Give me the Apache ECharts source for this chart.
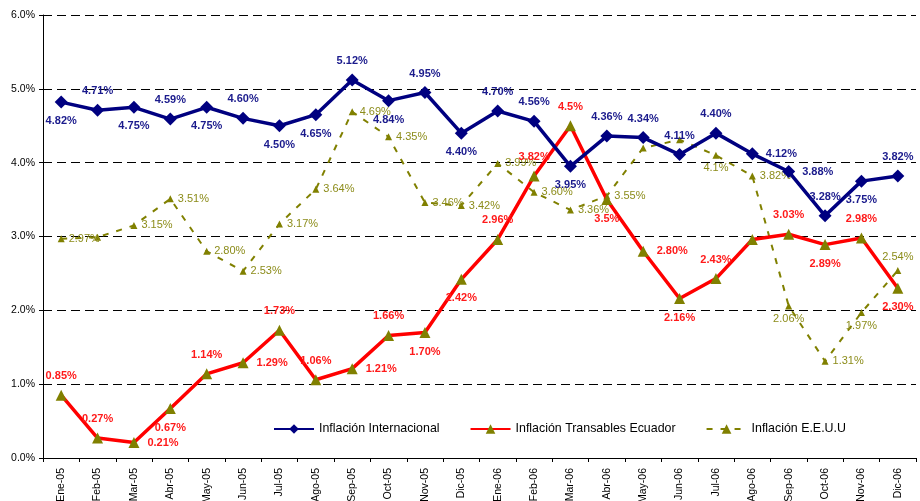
<!DOCTYPE html>
<html>
<head>
<meta charset="utf-8">
<script src="https://cdn.jsdelivr.net/npm/echarts@6/dist/echarts.min.js"></script>
<style>
  html, body { margin: 0; padding: 0; background: #fff; }
  #chart { width: 920px; height: 501px; }
</style>
</head>
<body>
<div id="chart"></div>
<script>
// Categories (months)
var months = ['Ene-05', 'Feb-05', 'Mar-05', 'Abr-05', 'May-05', 'Jun-05', 'Jul-05', 'Ago-05',
    'Sep-05', 'Oct-05', 'Nov-05', 'Dic-05', 'Ene-06', 'Feb-06', 'Mar-06', 'Abr-06',
    'May-06', 'Jun-06', 'Jul-06', 'Ago-06', 'Sep-06', 'Oct-06', 'Nov-06', 'Dic-06'];

// Series values (%)
var inflInternacional = [4.82, 4.71, 4.75, 4.59, 4.75, 4.60, 4.50, 4.65, 5.12, 4.84, 4.95, 4.40,
    4.70, 4.56, 3.95, 4.36, 4.34, 4.11, 4.40, 4.12, 3.88, 3.28, 3.75, 3.82];
var inflTransables = [0.85, 0.27, 0.21, 0.67, 1.14, 1.29, 1.73, 1.06, 1.21, 1.66, 1.70, 2.42,
    2.96, 3.82, 4.5, 3.5, 2.80, 2.16, 2.43, 2.96, 3.03, 2.89, 2.98, 2.30];
var inflEEUU = [2.97, 2.99, 3.15, 3.51, 2.80, 2.53, 3.17, 3.64, 4.69, 4.35, 3.46, 3.42,
    3.99, 3.60, 3.36, 3.55, 4.20, 4.31, 4.1, 3.82, 2.06, 1.31, 1.97, 2.54];

// Data label texts as printed on the chart ('' = no label shown)
var labelsTransables = ['0.85%', '0.27%', '0.21%', '0.67%', '1.14%', '1.29%', '1.73%', '1.06%',
    '1.21%', '1.66%', '1.70%', '2.42%', '2.96%', '3.82%', '4.5%', '3.5%', '2.80%', '2.16%',
    '2.43%', '', '3.03%', '2.89%', '2.98%', '2.30%'];
var labelsEEUU = ['2.97%', '', '3.15%', '3.51%', '2.80%', '2.53%', '3.17%', '3.64%', '4.69%',
    '4.35%', '3.46%', '3.42%', '3.99%', '3.60%', '3.36%', '3.55%', '', '', '4.1%', '3.82%',
    '2.06%', '1.31%', '1.97%', '2.54%'];

// Label placement per point
var posInternacional = ['bottom', 'top', 'bottom', 'top', 'bottom', 'top', 'bottom', 'bottom',
    'top', 'bottom', 'top', 'bottom', 'top', 'top', 'bottom', 'top', 'top', 'top', 'top',
    'right', 'right', 'top', 'bottom', 'top'];
var posTransables = ['top', 'top', 'right', 'bottom', 'top', 'right', 'top', 'top', 'right',
    'top', 'bottom', 'bottom', 'top', 'top', 'top', 'bottom', 'right', 'bottom', 'top', 'top',
    'top', 'bottom', 'top', 'bottom'];
var posEEUU = ['right', 'right', 'right', 'right', 'right', 'right', 'right', 'right', 'right',
    'right', 'right', 'right', 'right', 'right', 'right', 'right', 'right', 'right', 'bottom',
    'right', 'bottom', 'right', 'bottom', 'top'];

var chartElement = document.getElementById('chart');
var chart = echarts.init(chartElement);

var buildData = function(values, positions, labels) {
    return values.map(function(v, i) {
        var item = { value: v, label: { position: positions[i] } };
        if (labels) {
            item.label.formatter = labels[i];
            if (!labels[i]) item.label.show = false;
        }
        return item;
    });
};

var options = {
    animation: false,
    textStyle: {
        fontFamily: 'Arial, "Liberation Sans", sans-serif'
    },
    grid: {
        left: 43,
        right: 4,
        top: 15,
        bottom: 43,
        outerBoundsMode: 'none',
        containLabel: false
    },
    legend: {
        left: 268,
        top: 418,
        itemGap: 30,
        itemWidth: 40,
        itemHeight: 12,
        textStyle: { fontSize: 12.4, color: '#000' },
        data: ['Inflación Internacional', 'Inflación Transables Ecuador', 'Inflación E.E.U.U']
    },
    xAxis: {
        type: 'category',
        data: months,
        boundaryGap: true,
        axisLine: { lineStyle: { color: '#000', width: 1 } },
        axisTick: { show: true, length: 4, lineStyle: { color: '#000' } },
        axisLabel: { rotate: 90, fontSize: 10.5, color: '#000', margin: 10, interval: 0 },
        splitLine: { show: false }
    },
    yAxis: {
        type: 'value',
        min: 0,
        max: 6,
        interval: 1,
        axisLine: { show: true, lineStyle: { color: '#000', width: 1 } },
        axisTick: { show: true, length: 4, lineStyle: { color: '#000' } },
        axisLabel: {
            fontSize: 10.5,
            color: '#000',
            margin: 8,
            formatter: function(v) { return v.toFixed(1) + '%'; }
        },
        splitLine: {
            show: true,
            lineStyle: { color: '#000', type: [9, 5], width: 1 }
        }
    },
    series: [
        {
            name: 'Inflación Internacional',
            type: 'line',
            z: 4,
            symbol: 'diamond',
            symbolSize: 13,
            itemStyle: { color: '#000080' },
            lineStyle: { color: '#000080', width: 3.5 },
            label: {
                show: true,
                fontSize: 11,
                fontWeight: 'bold',
                color: '#1a1a8c',
                distance: 7,
                formatter: function(p) { return p.value.toFixed(2) + '%'; }
            },
            data: buildData(inflInternacional, posInternacional)
        },
        {
            name: 'Inflación Transables Ecuador',
            type: 'line',
            z: 3,
            symbol: 'triangle',
            symbolSize: 11,
            itemStyle: { color: '#808000' },
            lineStyle: { color: '#ff0000', width: 3.5 },
            label: {
                show: true,
                fontSize: 11,
                fontWeight: 'bold',
                color: '#ff1a1a',
                distance: 8
            },
            data: buildData(inflTransables, posTransables, labelsTransables)
        },
        {
            name: 'Inflación E.E.U.U',
            type: 'line',
            z: 2,
            symbol: 'triangle',
            symbolSize: 7,
            itemStyle: { color: '#808000' },
            lineStyle: { color: '#808000', width: 2, type: [6, 8] },
            label: {
                show: true,
                fontSize: 11,
                color: '#8c8c1a',
                distance: 4
            },
            data: buildData(inflEEUU, posEEUU, labelsEEUU)
        }
    ]
};

chart.setOption(options);

window.addEventListener('resize', function() {
    chart.resize();
});
</script>
</body>
</html>
